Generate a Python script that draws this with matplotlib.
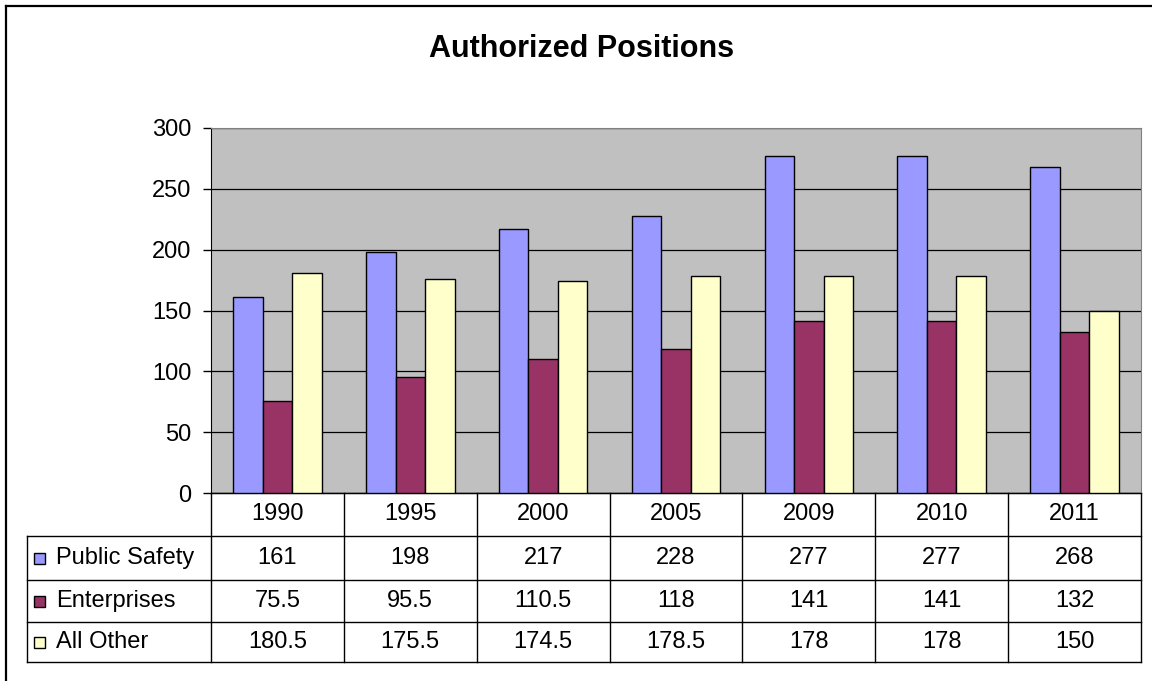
import matplotlib
matplotlib.use("Agg")
import matplotlib.pyplot as plt
from matplotlib.patches import Rectangle
from matplotlib.lines import Line2D
from matplotlib.transforms import blended_transform_factory
import numpy as np

plt.rcParams['font.family'] = ['Liberation Sans', 'DejaVu Sans']

years = ["1990", "1995", "2000", "2005", "2009", "2010", "2011"]
series_names = ["Public Safety", "Enterprises", "All Other"]
public_safety = [161, 198, 217, 228, 277, 277, 268]
enterprises = [75.5, 95.5, 110.5, 118, 141, 141, 132]
all_other = [180.5, 175.5, 174.5, 178.5, 178, 178, 150]
series_values = [public_safety, enterprises, all_other]
series_colors = ["#9999FF", "#993366", "#FFFFCC"]
y_ticks = [0, 50, 100, 150, 200, 250, 300]

W, H = 1152, 681
fig = plt.figure(figsize=(W / 100, H / 100), dpi=100)
fig.patch.set_facecolor("white")

FS = 17

# plot area in pixels
px_left, px_right, px_top, px_bottom = 211, 1141, 128, 493
ax = fig.add_axes([px_left / W, 1 - px_bottom / H, (px_right - px_left) / W, (px_bottom - px_top) / H])
ax.set_facecolor("#C0C0C0")

n = len(years)
x = np.arange(n)
bw = 1 / 4.5
for k, (vals, col) in enumerate(zip(series_values, series_colors)):
    ax.bar(x + (k - 1) * bw, vals, width=bw, color=col, edgecolor="black", linewidth=1, zorder=3)

ax.set_xlim(-0.5, n - 0.5)
ax.set_ylim(0, 300)
ax.set_yticks(y_ticks)
ax.set_yticklabels([str(t) for t in y_ticks], fontsize=FS)
ax.tick_params(axis="y", length=6, width=1, pad=8, direction="out")
ax.set_xticks([])
ax.yaxis.grid(True, color="black", linewidth=0.9, zorder=1)
ax.set_axisbelow(True)
ax.spines["top"].set_color("#808080")
ax.spines["right"].set_color("#808080")
ax.spines["left"].set_color("black")
ax.spines["bottom"].set_color("black")

# title
fig.text(582 / W, 1 - 57 / H, "Authorized Positions", ha="center", va="baseline",
         fontsize=22, fontweight="bold")

# outer border (only top and left visible)
fig.add_artist(Line2D([5.5 / W, 5.5 / W], [0, 1 - 5.5 / H], transform=fig.transFigure,
                      color="black", linewidth=1.6))
fig.add_artist(Line2D([5.5 / W, 1], [1 - 5.5 / H, 1 - 5.5 / H], transform=fig.transFigure,
                      color="black", linewidth=1.6))

# data table under the axes
trans = blended_transform_factory(ax.transData, ax.transAxes)
def ay(p):
    return (px_bottom - p) / (px_bottom - px_top)

row_edges = [493, 536, 580, 622, 662]
label_left = -0.5 - (211 - 27) / 133.0
right = n - 0.5

def hline(y, x0, x1):
    ax.plot([x0, x1], [ay(y), ay(y)], color="black", lw=1, transform=trans, clip_on=False)

def vline(xv, y0, y1):
    ax.plot([xv, xv], [ay(y0), ay(y1)], color="black", lw=1, transform=trans, clip_on=False)

hline(row_edges[0], -0.5, right)
for y in row_edges[1:]:
    hline(y, label_left, right)
for i in range(n + 1):
    vline(i - 0.5, row_edges[0], row_edges[-1])
vline(label_left, row_edges[1], row_edges[-1])

# header row
for i, yr in enumerate(years):
    ax.text(i, ay((row_edges[0] + row_edges[1]) / 2), yr, transform=trans, ha="center",
            va="center", fontsize=FS, clip_on=False)

def fmt(v):
    return str(int(v)) if float(v).is_integer() else str(v)

for r, (name, vals, col) in enumerate(zip(series_names, series_values, series_colors)):
    yc = (row_edges[r + 1] + row_edges[r + 2]) / 2
    # legend key square
    fig.add_artist(Rectangle((34 / W, 1 - (yc + 6) / H), 11 / W, 11 / H, transform=fig.transFigure,
                             facecolor=col, edgecolor="black", linewidth=1))
    fig.text(56 / W, 1 - yc / H, name, ha="left", va="center", fontsize=FS)
    for i, v in enumerate(vals):
        ax.text(i, ay(yc), fmt(v), transform=trans, ha="center", va="center",
                fontsize=FS, clip_on=False)

fig.savefig("out.png", dpi=100)
